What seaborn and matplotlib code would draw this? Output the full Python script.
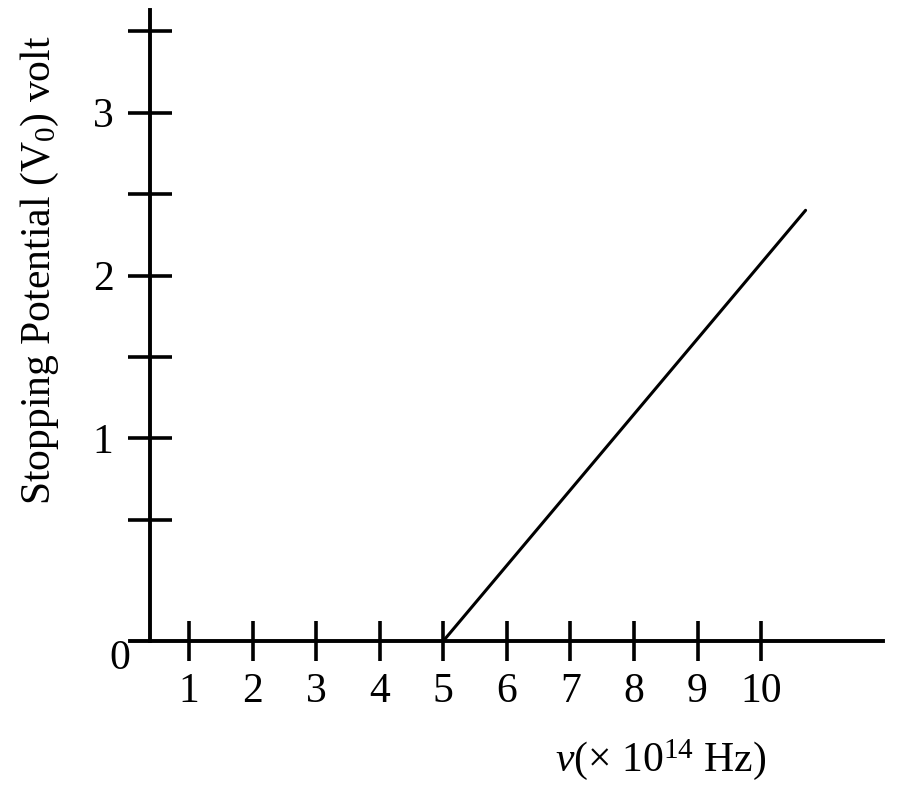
import numpy as np
import seaborn as sns
import matplotlib
matplotlib.use("Agg")
import matplotlib.pyplot as plt

# stopping potential vs frequency (threshold at 5 x 10^14 Hz)
freq = [5.0, 10.7]
volt = [0.0, 2.4]

x_ticks = [1, 2, 3, 4, 5, 6, 7, 8, 9, 10]
x_ticklabels = ["1", "2", "3", "4", "5", "6", "7", "8", "9", "10"]
y_ticks = [0.5, 1.0, 1.5, 2.0, 2.5, 3.0, 3.5]
y_ticklabels = ["", "1", "", "2", "", "3", ""]

sns.set_theme(style="white")
plt.rcParams["font.family"] = ["Liberation Serif", "DejaVu Serif"]
plt.rcParams["mathtext.fontset"] = "custom"
plt.rcParams["mathtext.rm"] = "Liberation Serif"
plt.rcParams["mathtext.it"] = "Liberation Serif:italic"

# the sketch squeezes the gap between 0 and the first tick on both axes
KX = 0.6136
KY = 1.485


def fwd_x(x):
    x = np.asarray(x, dtype=float)
    return np.where(x < 1, x * KX, x - 1 + KX)


def inv_x(s):
    s = np.asarray(s, dtype=float)
    return np.where(s < KX, s / KX, s + 1 - KX)


def fwd_y(v):
    v = np.asarray(v, dtype=float)
    return np.where(v < 0.5, v * KY, v - 0.5 + 0.5 * KY)


def inv_y(s):
    s = np.asarray(s, dtype=float)
    return np.where(s < 0.5 * KY, s / KY, s + 0.5 - 0.5 * KY)


fig = plt.figure(figsize=(9, 7.89), dpi=100)
ax = fig.add_axes([130 / 900, 148 / 789, 753 / 900, 631 / 789])

sns.lineplot(x=freq, y=volt, color="black", linewidth=2.2, ax=ax)

ax.set_xscale("function", functions=(fwd_x, inv_x))
ax.set_yscale("function", functions=(fwd_y, inv_y))
ax.set_xlim(-0.513, 11.918)
ax.set_ylim(0, 3.629)

ax.spines["top"].set_visible(False)
ax.spines["right"].set_visible(False)
ax.spines["left"].set_position(("data", 0))
for side in ["left", "bottom"]:
    ax.spines[side].set_linewidth(2.8)
    ax.spines[side].set_color("black")

ax.set_xticks(x_ticks)
ax.set_xticklabels(x_ticklabels)
ax.set_yticks(y_ticks)
ax.set_yticklabels(y_ticklabels)
ax.minorticks_off()
ax.tick_params(axis="x", bottom=True, direction="inout", length=29, width=2.6, pad=8.5,
               labelsize=30, color="black", labelcolor="black")
ax.tick_params(axis="y", left=True, direction="inout", length=31.5, width=2.6, pad=10.5,
               labelsize=30, color="black", labelcolor="black")

ax.annotate("0", xy=(0, 0), xytext=(-22, -13), textcoords="offset points",
            ha="center", va="center", fontsize=30, color="black")

ax.set_xlabel(r"$\nu$(× 10$^{14}$ Hz)", fontsize=30, color="black")
ax.xaxis.set_label_coords(0.705, -0.152)
ax.set_ylabel(r"Stopping Potential (V$_0$) volt", fontsize=30, color="black")
ax.yaxis.set_label_coords(-0.0916, 0.588)

fig.savefig("out.png", dpi=100, facecolor="white")
